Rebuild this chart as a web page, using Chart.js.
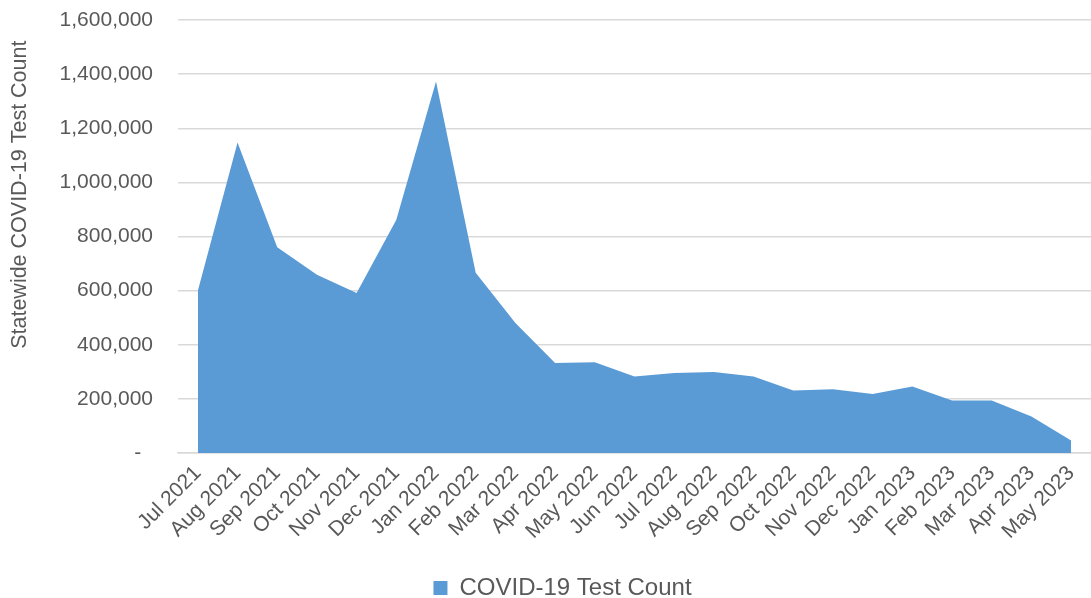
<!DOCTYPE html>
<html>
<head>
<meta charset="utf-8">
<script src="https://cdn.jsdelivr.net/npm/chart.js@4"></script>
<style>
  body { margin: 0; background: #fff; }
  #wrap { width: 1091px; height: 598px; }
</style>
</head>
<body>
<div id="wrap"><canvas id="chart" width="1091" height="598"></canvas></div>
<script>
const months = [
    'Jul 2021', 'Aug 2021', 'Sep 2021', 'Oct 2021', 'Nov 2021', 'Dec 2021',
    'Jan 2022', 'Feb 2022', 'Mar 2022', 'Apr 2022', 'May 2022', 'Jun 2022',
    'Jul 2022', 'Aug 2022', 'Sep 2022', 'Oct 2022', 'Nov 2022', 'Dec 2022',
    'Jan 2023', 'Feb 2023', 'Mar 2023', 'Apr 2023', 'May 2023'
];
const testCounts = [
    600000, 1147000, 760000, 659000, 591000, 862000,
    1373000, 666000, 480000, 333000, 335000, 283000,
    296000, 299000, 283000, 231000, 236000, 218000,
    246000, 194000, 194000, 135000, 46000
];
const seriesName = 'COVID-19 Test Count';
const axisTitle = 'Statewide COVID-19 Test Count';

const fontFamily = '"Liberation Sans", Arial, sans-serif';
const textColor = '#595959';
const gridColor = '#D9D9D9';
const fillColor = '#5B9BD5';

const ctx = document.getElementById('chart').getContext('2d');

// nudge the legend a little right of the canvas centre, as in the original
const legendShift = {
    id: 'legendShift',
    beforeDraw(chart) {
        chart.legend.left += 17;
        chart.legend.right += 17;
    }
};

new Chart(ctx, {
    type: 'line',
    data: {
        labels: months,
        datasets: [{
            label: seriesName,
            data: testCounts,
            fill: 'origin',
            backgroundColor: fillColor,
            borderColor: fillColor,
            borderWidth: 0,
            pointRadius: 0,
            tension: 0
        }]
    },
    options: {
        responsive: false,
        animation: false,
        layout: { padding: { top: 20, right: 0, bottom: -12, left: 0 } },
        plugins: {
            tooltip: { enabled: false },
            legend: {
                position: 'bottom',
                labels: {
                    color: textColor,
                    font: { family: fontFamily, size: 24 },
                    boxWidth: 14,
                    boxHeight: 14,
                    padding: 8,
                    generateLabels: (chart) => [{
                        text: seriesName,
                        fillStyle: fillColor,
                        strokeStyle: fillColor,
                        lineWidth: 0,
                        fontColor: textColor,
                        datasetIndex: 0
                    }]
                }
            }
        },
        scales: {
            x: {
                offset: true,
                grid: { display: false },
                border: { color: gridColor, width: 1.5 },
                ticks: {
                    color: textColor,
                    font: { family: fontFamily, size: 21 },
                    maxRotation: 45,
                    minRotation: 45,
                    autoSkip: false,
                    padding: 0
                },
                afterFit: (scale) => { scale.height = 115; }
            },
            y: {
                min: 0,
                max: 1600000,
                ticks: {
                    stepSize: 200000,
                    color: textColor,
                    font: { family: fontFamily, size: 21 },
                    padding: 0,
                    callback: (value) => value === 0 ? '-  ' : value.toLocaleString('en-US')
                },
                grid: {
                    color: gridColor,
                    lineWidth: 1.5,
                    drawTicks: true,
                    tickLength: 25,
                    tickColor: 'rgba(0,0,0,0)'
                },
                border: { display: false },
                title: {
                    display: true,
                    // leading spaces lift the centred title like the original
                    text: '              ' + axisTitle,
                    color: textColor,
                    font: { family: fontFamily, size: 21.5 },
                    padding: { top: 7, bottom: 0 }
                },
                afterFit: (scale) => { scale.width = 178; }
            }
        }
    },
    plugins: [legendShift]
});
</script>
</body>
</html>
